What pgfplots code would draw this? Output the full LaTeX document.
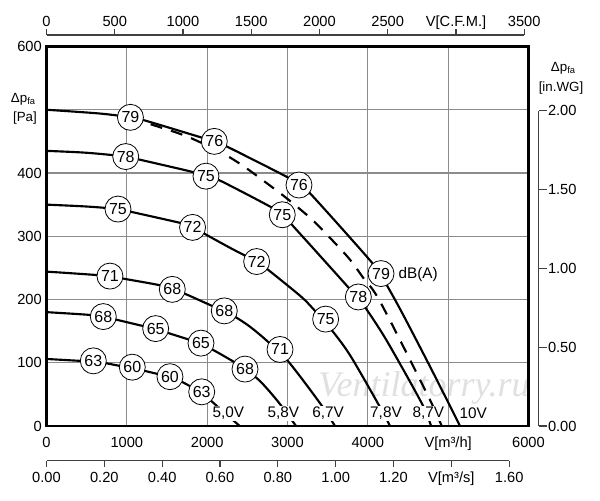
\documentclass[border=0pt]{standalone}
\usepackage{fontspec}
\setmainfont{Liberation Sans}
\newfontfamily\wmfont{Liberation Serif}
\usepackage{pgfplots}
\pgfplotsset{compat=1.18}
\usepackage{pgfplotstable}

% 10V
\pgfplotstableread{
x y
0 500
666 494
1045 488
1226 483
1932 456
2089 450
2243 442
2990 394
3143 381
3280 368
4006 265
4164 238
4401 185
4774 94
5148 0
}\curveA
% 8,7V
\pgfplotstableread{
x y
0 435
500 432
986 426
1164 421
1808 402
1985 395
2160 388
2782 347
2935 334
3156 304
3695 228
3882 201
3965 188
4235 135
4671 36
4787 0
}\curveB
% 7,8V
\pgfplotstableread{
x y
0 350
500 347
890 343
1039 339
1703 320
1818 315
1994 302
2325 279
2616 260
2699 253
3156 206
3321 185
3529 155
3778 112
4151 30
4276 0
}\curveC
% 6,7V
\pgfplotstableread{
x y
0 244
251 242
790 237
956 233
1392 223
1566 216
1724 209
2077 189
2213 182
2368 171
2533 157
2741 135
3010 102
3405 36
3591 0
}\curveDD
% 5,8V
\pgfplotstableread{
x y
0 180
500 176
707 173
873 168
1205 158
1359 154
1516 147
1786 136
1923 129
2077 120
2325 102
2471 90
2658 71
2886 38
3106 0
}\curveE
% 5,0V
\pgfplotstableread{
x y
0 106
417 103
583 102
749 99
915 95
1068 92
1226 87
1392 82
1537 77
1683 70
1786 63
1932 54
2014 44
2118 32
2405 0
}\curveF
% dashed
\pgfplotstableread{
x y
1045 488
1300 477
1745 458
2181 432
2450 411
2741 384
2990 360
3300 327
3570 292
3778 263
3944 234
4151 197
4733 52
4920 0
}\curveDash
% circled sound levels
\pgfplotstableread{
x y lab
1045 488 79
2089 450 76
3143 381 76
4164 241 79
986 426 78
1985 395 75
2935 334 75
3882 204 78
890 343 75
1818 314 72
2616 260 72
3475 169 75
790 237 71
1566 216 68
2213 182 68
2907 121 71
707 173 68
1359 154 65
1923 131 65
2471 90 68
583 103 63
1068 93 60
1537 78 60
1932 54 63
}\circdata
% voltage labels
\pgfplotstableread{
x y lab
2263 20 5,0V
2948 20 5,8V
3505 20 6,7V
4226 20 7,8V
4753 20 8,7V
5313 20 10V
}\voltdata

\begin{document}
\begin{tikzpicture}
\path[use as bounding box] (0,0) rectangle (450pt,375pt);

% watermark
\node[font=\wmfont\itshape\fontsize{27}{30}\selectfont, text=black!12] at (318pt,84pt) {Ventilatorry.ru};

% top axis: CFM
\begin{axis}[
  scale only axis, width=358.3pt, height=1pt,
  at={(34.875pt,348.75pt)}, anchor=north west,
  xmin=0, xmax=3500, ymin=0, ymax=1,
  axis x line=top, axis y line=none,
  x axis line style={-, draw=black!75, line width=0.8pt},
  xtick={0,500,1000,1500,2000,2500,3000,3500},
  xticklabels={0,500,1000,1500,2000,2500,{V[C.F.M.]},3500},
  ytick=\empty,
  tick align=outside, major tick length=4.5pt,
  xtick style={draw=black!75, line width=0.8pt},
  tick label style={font=\fontsize{11}{13}\selectfont},
  xticklabel style={text height=8pt, text depth=2.5pt, inner sep=1pt, yshift=-1.8pt},
]
\end{axis}

% bottom axis: m3/s
\begin{axis}[
  scale only axis, width=347pt, height=1pt,
  at={(34.875pt,29.5pt)}, anchor=south west,
  xmin=0, xmax=1.6, ymin=0, ymax=1,
  axis x line=bottom, axis y line=none,
  x axis line style={-, draw=black!75, line width=0.8pt},
  xtick={0,0.2,0.4,0.6,0.8,1.0,1.2,1.4,1.6},
  xticklabels={0.00,0.20,0.40,0.60,0.80,1.00,1.20,{V[m³/s]},1.60},
  ytick=\empty,
  tick align=outside, major tick length=4.5pt,
  xtick style={draw=black!75, line width=0.8pt},
  tick label style={font=\fontsize{11}{13}\selectfont},
  xticklabel style={text height=8pt, text depth=2.5pt, inner sep=2.5pt, yshift=-1.5pt},
]
\end{axis}

% right axis: in.WG
\begin{axis}[
  scale only axis, width=1pt, height=236.3pt,
  at={(404pt,55.5pt)}, anchor=south east,
  xmin=0, xmax=1, ymin=0, ymax=2,
  axis y line=right, axis x line=none,
  y axis line style={-, draw=black!75, line width=0.8pt},
  ytick={0,0.5,1,1.5,2},
  yticklabels={0.00,0.50,1.00,1.50,2.00},
  xtick=\empty,
  tick align=outside, major tick length=6pt,
  ytick style={draw=black!75, line width=0.8pt},
  tick label style={font=\fontsize{11}{13}\selectfont},
  yticklabel style={inner sep=0.8pt},
]
\end{axis}

% main axis
\begin{axis}[
  scale only axis, width=361.5pt, height=284.625pt,
  at={(34.875pt,55.5pt)}, anchor=south west,
  xmin=0, xmax=6000, ymin=0, ymax=600,
  xtick={0,1000,2000,3000,4000,5000,6000},
  xticklabels={0,1000,2000,3000,4000,{V[m³/h]},6000},
  ytick={0,100,200,300,400,500,600},
  yticklabels={0,100,200,300,400,{},600},
  major tick length=0pt,
  grid=major,
  major grid style={draw=black!45, line width=0.9pt},
  axis line style={line width=2pt},
  tick label style={font=\fontsize{11}{13}\selectfont},
  xticklabel style={text height=8pt, text depth=2.5pt, yshift=-4.5pt},
  clip=false,
]
\addplot[black, line width=1.6pt, smooth] table[x=x,y=y] {\curveA};
\addplot[black, line width=1.6pt, smooth] table[x=x,y=y] {\curveB};
\addplot[black, line width=1.6pt, smooth] table[x=x,y=y] {\curveC};
\addplot[black, line width=1.6pt, smooth] table[x=x,y=y] {\curveDD};
\addplot[black, line width=1.6pt, smooth] table[x=x,y=y] {\curveE};
\addplot[black, line width=1.6pt, smooth] table[x=x,y=y] {\curveF};
\addplot[black, line width=1.6pt, smooth, dash pattern=on 9pt off 7pt] table[x=x,y=y] {\curveDash};

\addplot[only marks, mark=none, nodes near coords, point meta=explicit symbolic,
  every node near coord/.append style={anchor=center, circle, draw=black, line width=0.6pt,
    fill=white, inner sep=0pt, minimum size=19.5pt, font=\fontsize{12}{14}\selectfont, text=black}]
  table[x=x,y=y,meta=lab] {\circdata};

\addplot[only marks, mark=none, nodes near coords, point meta=explicit symbolic,
  every node near coord/.append style={anchor=center, fill=white, inner sep=1pt,
    font=\fontsize{11.5}{13}\selectfont, text=black}]
  table[x=x,y=y,meta=lab] {\voltdata};

\node[anchor=west, font=\fontsize{11.5}{13}\selectfont, inner sep=0pt] at (axis cs:4379,240) {dB(A)};
\end{axis}

% axis titles
\node[font=\fontsize{10}{12}\selectfont, inner sep=0pt] at (17.5pt,300.5pt) {Δp\textsubscript{fa}};
\node[font=\fontsize{10}{12}\selectfont, inner sep=0pt] at (18.75pt,286.3pt) {[Pa]};
\node[font=\fontsize{10}{12}\selectfont, inner sep=0pt] at (422.5pt,323.75pt) {Δp\textsubscript{fa}};
\node[font=\fontsize{10}{12}\selectfont, inner sep=0pt] at (420.75pt,308.75pt) {[in.WG]};
\end{tikzpicture}
\end{document}
